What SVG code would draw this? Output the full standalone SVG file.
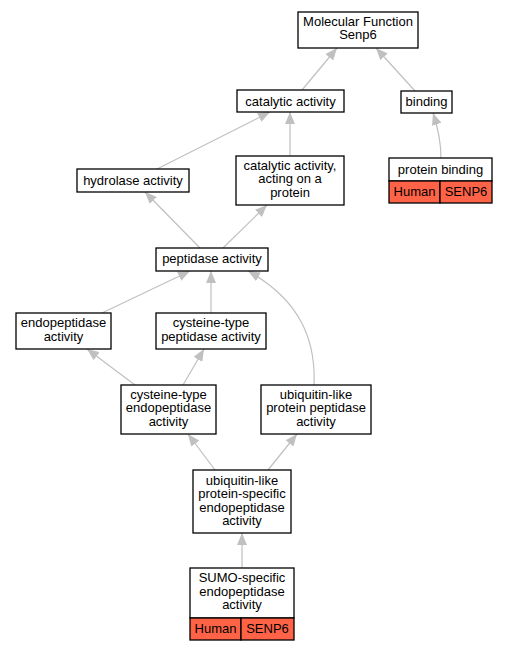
<svg xmlns="http://www.w3.org/2000/svg" width="507" height="651" viewBox="0 0 507 651">
<defs>
<style>
.n{fill:#fff;stroke:#000;stroke-width:1.3}
.r{fill:#ff6347;stroke:#000;stroke-width:1.3}
text{font-family:"Liberation Sans",Arial,sans-serif;font-size:13px;fill:#000;text-anchor:middle}
.e{fill:none;stroke:#c0c0c0;stroke-width:1.2;marker-end:url(#a)}
</style>
<marker id="a" markerUnits="userSpaceOnUse" markerWidth="12" markerHeight="10" refX="12" refY="5" orient="auto">
<path d="M0,0 L12,5 L0,10 z" fill="#c0c0c0"/>
</marker>
</defs>
<rect width="507" height="651" fill="#fff"/>
<g id="edges">
<path class="e" d="M302,90 L337,48"/>
<path class="e" d="M415,91 L376,48"/>
<path class="e" d="M441,158 C441,140 437,125 433,113"/>
<path class="e" d="M157,169 L270,112"/>
<path class="e" d="M290,156 L290,112"/>
<path class="e" d="M200,248 L145,192"/>
<path class="e" d="M223,248 L267,205"/>
<path class="e" d="M102,313 L190,271"/>
<path class="e" d="M211,313 L211,271"/>
<path class="e" d="M314,385 C316,340 300,300 248,271"/>
<path class="e" d="M135,385 L87,349"/>
<path class="e" d="M183,385 L204,349"/>
<path class="e" d="M215,470 L188,434"/>
<path class="e" d="M268,470 L297,434"/>
<path class="e" d="M242,568 L242,533"/>
</g>
<g id="mf"><rect class="n" x="298" y="12" width="120" height="36"/><text x="358" y="25.5">Molecular Function</text><text x="358" y="39">Senp6</text></g>
<g id="catalytic"><rect class="n" x="237" y="90" width="107" height="22"/><text x="290.5" y="105.5">catalytic activity</text></g>
<g id="binding"><rect class="n" x="401" y="91" width="51" height="22"/><text x="426.5" y="106">binding</text></g>
<g id="proteinbinding"><rect class="n" x="389" y="158" width="103" height="23"/><text x="440.5" y="173.5">protein binding</text>
<rect class="r" x="389" y="181" width="51" height="22"/><rect class="r" x="440" y="181" width="52" height="22"/><text x="414.5" y="196">Human</text><text x="466" y="196">SENP6</text></g>
<g id="hydrolase"><rect class="n" x="77" y="169" width="112" height="23"/><text x="133" y="184.5">hydrolase activity</text></g>
<g id="catprotein"><rect class="n" x="236" y="156" width="108" height="49"/><text x="290" y="169.5">catalytic activity,</text><text x="290" y="183">acting on a</text><text x="290" y="196.5">protein</text></g>
<g id="peptidase"><rect class="n" x="156" y="248" width="112" height="23"/><text x="212" y="263">peptidase activity</text></g>
<g id="endopeptidase"><rect class="n" x="16" y="313" width="95" height="36"/><text x="63.5" y="327">endopeptidase</text><text x="63.5" y="340.5">activity</text></g>
<g id="cyspeptidase"><rect class="n" x="156" y="313" width="110" height="36"/><text x="211" y="327">cysteine-type</text><text x="211" y="340.5">peptidase activity</text></g>
<g id="cysendo"><rect class="n" x="121" y="385" width="95" height="49"/><text x="168.5" y="398.5">cysteine-type</text><text x="168.5" y="412">endopeptidase</text><text x="168.5" y="425.5">activity</text></g>
<g id="ublpeptidase"><rect class="n" x="261" y="385" width="110" height="49"/><text x="316" y="398.5">ubiquitin-like</text><text x="316" y="412">protein peptidase</text><text x="316" y="425.5">activity</text></g>
<g id="ublendo"><rect class="n" x="193" y="470" width="98" height="63"/><text x="242" y="484.5">ubiquitin-like</text><text x="242" y="498">protein-specific</text><text x="242" y="511.5">endopeptidase</text><text x="242" y="525">activity</text></g>
<g id="sumo"><rect class="n" x="190" y="568" width="104" height="50"/><text x="242" y="582">SUMO-specific</text><text x="242" y="595.5">endopeptidase</text><text x="242" y="609">activity</text>
<rect class="r" x="190" y="618" width="51" height="22"/><rect class="r" x="241" y="618" width="53" height="22"/><text x="215.5" y="632.5">Human</text><text x="267.5" y="632.5">SENP6</text></g>
</svg>
